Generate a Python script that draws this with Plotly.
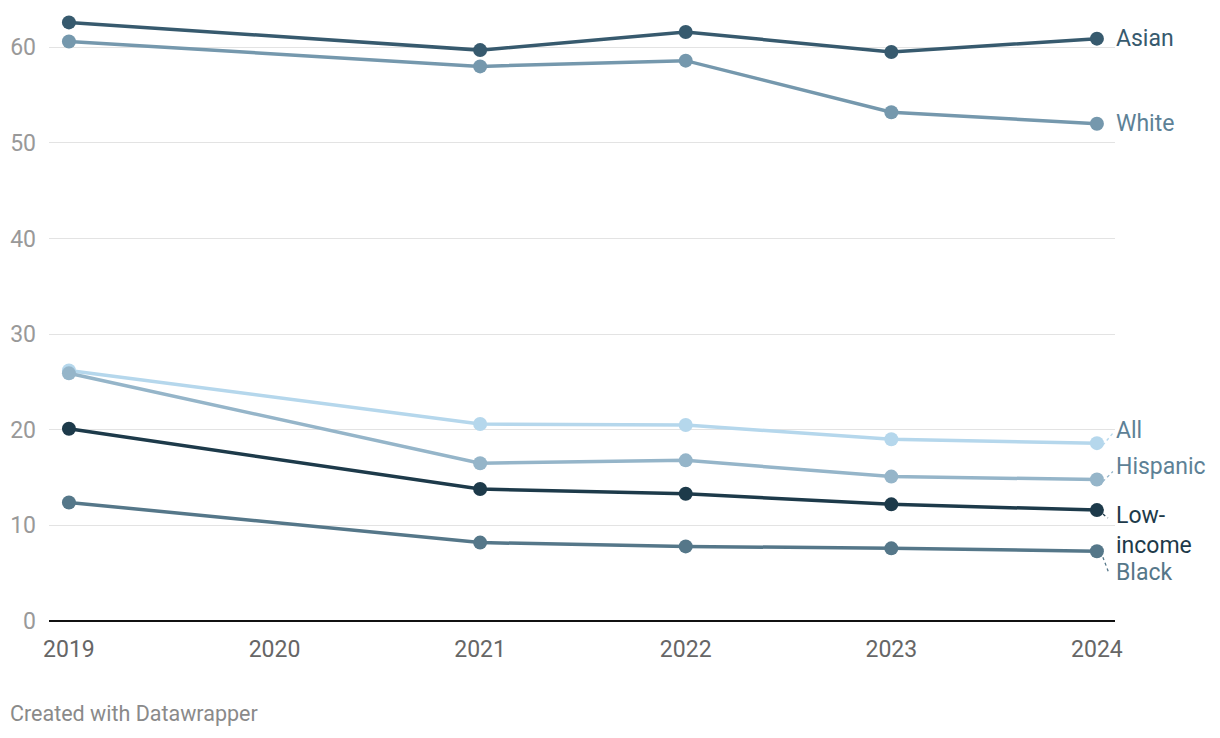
import plotly.graph_objects as go

years = [2019, 2021, 2022, 2023, 2024]
series_names = ["Asian", "White", "All", "Hispanic", "Low-income", "Black"]
asian = [62.6, 59.7, 61.6, 59.5, 60.9]
white = [60.6, 58.0, 58.6, 53.2, 52.0]
all_students = [26.2, 20.6, 20.5, 19.0, 18.6]
hispanic = [25.9, 16.5, 16.8, 15.1, 14.8]
low_income = [20.1, 13.8, 13.3, 12.2, 11.6]
black = [12.4, 8.2, 7.8, 7.6, 7.3]
label_texts = ["Asian", "White", "All", "Hispanic", "Low-<br>income", "Black"]
y_ticks = [0, 10, 20, 30, 40, 50, 60]
x_ticks = [2019, 2020, 2021, 2022, 2023, 2024]

values = [asian, white, all_students, hispanic, low_income, black]
line_colors = ["#375a6e", "#7598ad", "#b5d7ec", "#95b5c9", "#1d3a4a", "#557789"]
text_colors = ["#375a6e", "#5d8196", "#5d8196", "#5d8196", "#1d3a4a", "#557789"]
# label vertical pixel shifts relative to last data point (positive = up)
label_shift = [0, 0, 13, 13, -20, -21]
leader = [None, None, (6, -2, 16, 10), (6, -2, 16, 8), (6, -4, 11, -8), (6, -6, 12, -22)]

fig = go.Figure()
for name, vals, c in zip(series_names, values, line_colors):
    fig.add_trace(go.Scatter(
        x=years, y=vals, mode="lines+markers", name=name,
        line=dict(color=c, width=3.5),
        marker=dict(color=c, size=14),
        hoverinfo="x+y+name", showlegend=False))

for i, (txt, vals) in enumerate(zip(label_texts, values)):
    fig.add_annotation(
        x=years[-1], y=vals[-1], text=txt, showarrow=False,
        xanchor="left", yanchor="middle", align="left",
        xshift=17, yshift=label_shift[i],
        font=dict(family="Roboto", size=23, color=text_colors[i]))
    if leader[i]:
        x0, y0, x1, y1 = leader[i]
        fig.add_shape(type="line", xref="x", yref="y",
                      xsizemode="pixel", ysizemode="pixel",
                      xanchor=years[-1], yanchor=vals[-1],
                      x0=x0, y0=y0, x1=x1, y1=y1,
                      line=dict(color=line_colors[i], width=1.3, dash="dot"))

fig.add_annotation(x=0, y=0, xref="paper", yref="paper", xshift=-41, yshift=-107,
                   text="Created with Datawrapper", showarrow=False,
                   xanchor="left", yanchor="bottom",
                   font=dict(family="Roboto", size=21.5, color="#8a8a8a"))

fig.update_layout(
    width=1220, height=738,
    margin=dict(l=49, r=105, t=9, b=117),
    plot_bgcolor="white", paper_bgcolor="white",
    font=dict(family="Roboto"),
    xaxis=dict(range=[2018.903, 2024.088], tickvals=x_ticks,
               showgrid=False, zeroline=False, showline=False,
               ticks="outside", ticklen=7, tickcolor="rgba(0,0,0,0)",
               tickfont=dict(size=23, color="#666666")),
    yaxis=dict(range=[0, 64], tickvals=y_ticks,
               showgrid=True, gridcolor="#e3e3e3", gridwidth=1,
               zeroline=True, zerolinecolor="#111111", zerolinewidth=2,
               showline=False, ticks="", ticklabelstandoff=12,
               tickfont=dict(size=23, color="#999999")),
)

fig.write_html("out.html", config={"displayModeBar": False},
               post_script="document.body.style.margin='0';")
